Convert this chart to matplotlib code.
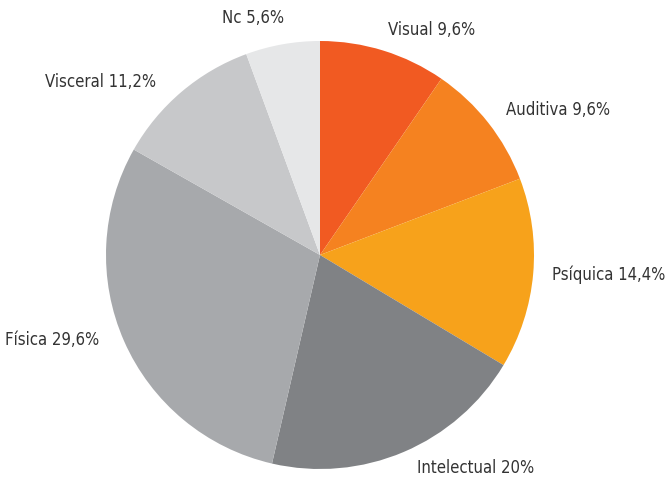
import matplotlib
matplotlib.use('Agg')
import matplotlib.pyplot as plt

labels = ['Visual', 'Auditiva', 'Psíquica', 'Intelectual', 'Física', 'Visceral', 'Nc']
pct_text = ['9,6%', '9,6%', '14,4%', '20%', '29,6%', '11,2%', '5,6%']
values = [9.6, 9.6, 14.4, 20.0, 29.6, 11.2, 5.6]
colors = ['#F15A22', '#F58220', '#F7A21B', '#808285', '#A7A9AC', '#C7C8CA', '#E6E7E8']

# label left edge and vertical centre, in pixels from top-left
label_pos = [(388, 30), (506, 110), (552, 275), (417, 468), (5, 340), (45, 82), (222, 18)]

plt.rcParams['font.family'] = ['DejaVu Sans']

fig = plt.figure(figsize=(6.7, 4.8), dpi=100)
ax = fig.add_axes([0, 0, 1, 1])
ax.pie(values, colors=colors, startangle=90, counterclock=False,
       radius=214, center=(320, 480 - 255),
       wedgeprops={'linewidth': 0})
ax.set_xlim(0, 670)
ax.set_ylim(0, 480)
ax.set_aspect('equal')
ax.axis('off')

for lab, p, (x, y) in zip(labels, pct_text, label_pos):
    ax.text(x, 480 - y, f'{lab} {p}', ha='left', va='center',
            fontsize=12, fontstretch='condensed', color='#333333')

fig.savefig('out.png', dpi=100)
